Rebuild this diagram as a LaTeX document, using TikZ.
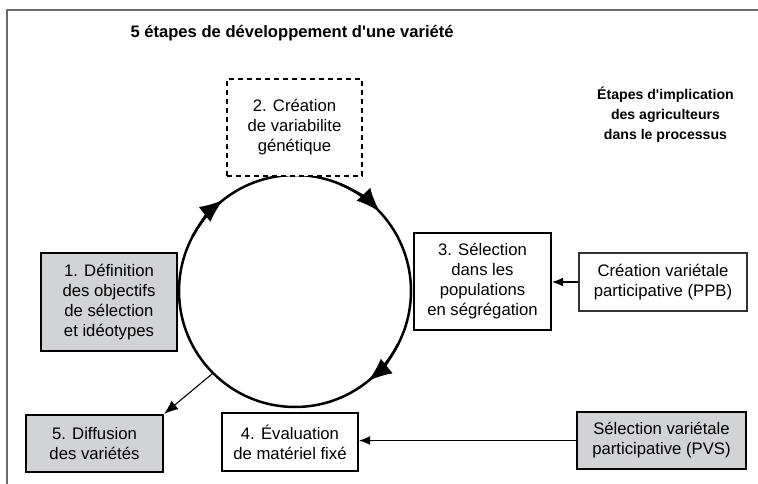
\documentclass[tikz,border=0pt]{standalone}
\usepackage{fontspec}
\setmainfont{Liberation Sans}
\usetikzlibrary{arrows.meta}
\definecolor{gris}{HTML}{D1D3D4}
\definecolor{cadre}{HTML}{6A6A6A}

\begin{document}
\begin{tikzpicture}[x=1pt,y=-1pt,
  etape/.style={draw,line width=2.2pt,align=center,inner sep=0pt,font=\fontsize{16.7}{20}\selectfont},
  partic/.style={draw,line width=1.2pt,align=center,inner sep=0pt,font=\fontsize{16.7}{20}\selectfont},
  fleche/.style={line width=1.1pt,-{Latex[length=11pt,width=9pt]}},
  tour/.style={line width=2.5pt,-{Latex[length=24pt,width=19pt]}}]
  \useasboundingbox (0,0) rectangle (758,484);
  \draw[cadre,line width=1.2pt] (758,10)--(7,10)--(7,484);
  \node[anchor=west,font=\bfseries\fontsize{16.6}{20}\selectfont] (titre) at (127,33)
    {5 étapes de développement d\textquotesingle une variété};
  \node[align=center,font=\bfseries\fontsize{14.1}{20}\selectfont] (implic) at (665.5,115)
    {Étapes d\textquotesingle implication\\des agriculteurs\\dans le processus};
  \node[circle,draw,line width=2.5pt,minimum size=232pt,inner sep=0pt] (roue) at (295,291) {};
  \draw[tour] (roue.center) ++(-152:116) arc (-152:-128:116);
  \draw[tour] (roue.center) ++(-67:116) arc (-67:-43:116);
  \draw[tour] (roue.center) ++(27:116) arc (27:51:116);
  \node[etape,fill=gris,minimum width=136pt,minimum height=98pt] (objectifs) at (109,302)
    {1. Définition\\des objectifs\\de sélection\\et idéotypes};
  \node[etape,dash pattern=on 5pt off 4pt,fill=white,minimum width=135pt,minimum height=97pt] (variab) at (294.5,127.5)
    {2. Création\\de variabilite\\génétique};
  \node[etape,fill=white,minimum width=137pt,minimum height=97pt] (selection) at (482.5,281.5)
    {3. Sélection\\dans les\\populations\\en ségrégation};
  \node[etape,fill=white,minimum width=136pt,minimum height=58pt] (evaluation) at (290,442)
    {4. Évaluation\\de matériel fixé};
  \node[etape,fill=gris,minimum width=137pt,minimum height=57pt] (diffusion) at (94.5,443.5)
    {5. Diffusion\\des variétés};
  \node[partic,draw=black!80,minimum width=168pt,minimum height=58pt] (ppb) at (663,282)
    {Création variétale\\participative (PPB)};
  \node[partic,fill=gris,minimum width=169pt,minimum height=57pt] (pvs) at (661.5,440.5)
    {Sélection variétale\\participative (PVS)};
  \draw[fleche,-{Latex[length=14pt,width=11pt]}] (roue.225)--(diffusion.north east);
  \draw[fleche] (ppb.west)--(ppb.west -| selection.east);
  \draw[fleche] (pvs.west)--(pvs.west -| evaluation.east);
\end{tikzpicture}
\end{document}
